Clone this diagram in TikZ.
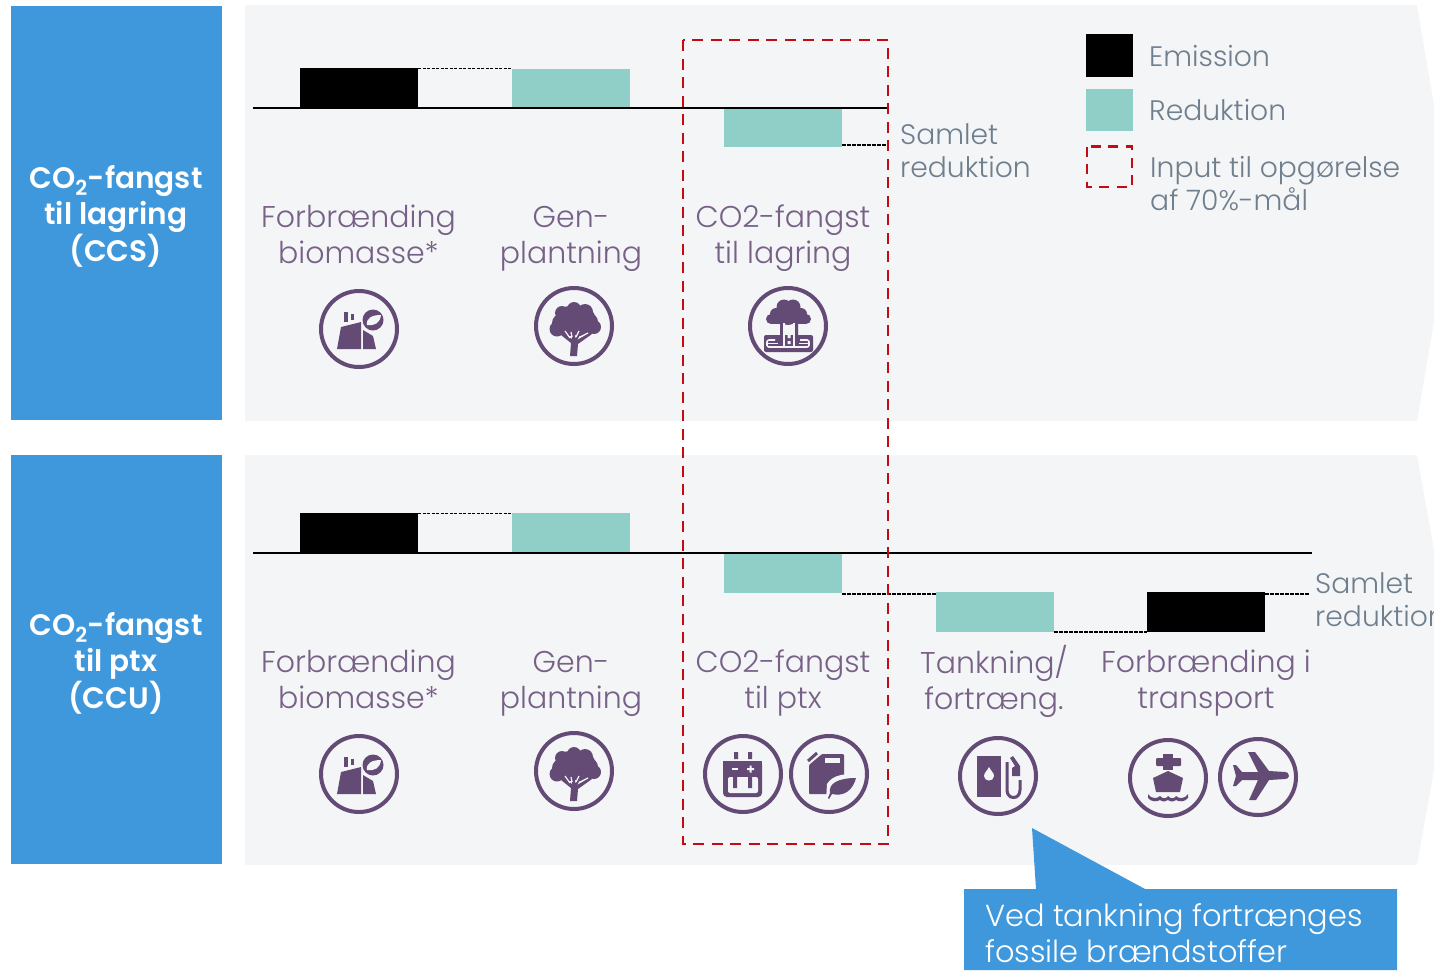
\documentclass[tikz,border=0pt]{standalone}
\usepackage{fontspec}
\setmainfont{Poppins}[UprightFont=* Light,BoldFont=* SemiBold]
\definecolor{blueC}{HTML}{4098DC}
\definecolor{tealC}{HTML}{90CFC7}
\definecolor{purpC}{HTML}{644B75}
\definecolor{panelC}{HTML}{F4F5F7}
\definecolor{greyC}{HTML}{6F7F8E}
\definecolor{redC}{HTML}{C40A12}
\tikzset{
  x=1pt,y=-1pt,
  bar/.style={inner sep=0pt,outer sep=0pt,minimum width=118pt,minimum height=39pt,anchor=north west},
  blackbar/.style={bar,fill=black},
  tealbar/.style={bar,fill=tealC},
  base/.style={black,line width=2pt},
  dash1/.style={black,line width=.9pt,dash pattern=on 3pt off 1.5pt},
  dash2/.style={black,line width=1.3pt,dash pattern=on 3.5pt off 1.5pt},
  redbox/.style={redC,line width=2.8pt,dash pattern=on 11pt off 7.5pt},
  sidelabel/.style={text=white,font=\fontsize{29.6}{36.5}\selectfont\bfseries,align=center,inner sep=0pt},
  steplabel/.style={text=purpC!88!white,font=\fontsize{30}{36}\selectfont,align=center,inner sep=0pt},
  greylabel/.style={text=greyC,font=\fontsize{28.2}{33}\selectfont,align=left,inner sep=0pt,anchor=west},
  ring/.style={draw=purpC,line width=4pt,fill=none},
  pf/.style={fill=purpC,draw=none},
  pw/.style={fill=panelC,draw=none},
  icofactory/.pic={
    \draw[ring] (0,0) circle (38);
    \fill[pf] (-22,20) -- (-18,-2) -- (2,-7) -- (2,20) -- cycle;
    \fill[pf] (-15,-17) rectangle (-11,-7);
    \fill[pf] (-8,-15) rectangle (-5,-9);
    \fill[pf] (4,1) -- (14,7) -- (17,20) -- (4,20) -- cycle;
    \fill[pf] (14,-9) circle (10.5);
    \fill[pw] (8,-4) .. controls (7,-11) and (13,-14) .. (22,-14) .. controls (21,-6) and (16,-3) .. (8,-4) -- cycle;
  },
  icotree/.pic={
    \draw[ring] (0,0) circle (38);
    \fill[pf] (-12,-13) circle (7) (0,-17) circle (7) (11,-14) circle (8)
      (-17,3) circle (7.5) (20,1) circle (7) (-4,-5) circle (15) (7,-5) circle (15) (15,-4) circle (9) (-13,-3) circle (9);
    \fill[pf] (-4,30) -- (-3,17) -- (-13,9) -- (-10,7) -- (-2,13) -- (-1,5) -- (1,5) -- (1,13) -- (5,5) -- (8,6) -- (3,14) -- (17,6) -- (18,8) -- (4,18) -- (3,30) -- cycle;
    \draw[panelC,line width=1.2pt] (-9,5) -- (-4,12) (-3,6) -- (-2,11) (2,11) -- (5,5) (6,11) -- (14,7);
  },
  icoccs/.pic={
    \draw[ring] (0,0) circle (38);
    \fill[pf] (-4,-19) circle (7.5) (5,-19) circle (7.5) (-12,-12) circle (6) (13,-12) circle (6)
      (-17,-7) circle (5) (18,-7) circle (5) (0,-10) circle (9);
    \fill[pf] (-17,-11) rectangle (18,-2);
    \fill[pf] (-8,-3) rectangle (-5,20) (7,-3) rectangle (10,20);
    \fill[pf,rounded corners=2pt] (-24,9) rectangle (25,26);
    \draw[panelC,line width=1.6pt] (-20,17.5) -- (-10,17.5) (11,17.5) -- (20,17.5);
    \draw[panelC,line width=1.6pt,rounded corners=2pt] (-13,14) -- (-21,14) -- (-21,21) -- (21,21) -- (21,14) -- (12,14);
    \draw[panelC,line width=1.6pt] (-4,-3) -- (-4,20) (6,-3) -- (6,20);
    \fill[panelC] (-0.5,9) rectangle (2.5,12) (-0.5,15) rectangle (2.5,18);
  },
  icobattery/.pic={
    \draw[ring] (0,0) circle (38);
    \fill[pf] (-9,-22) rectangle (-5,-15) (5,-22) rectangle (9,-15);
    \fill[pf,rounded corners=4pt] (-20,-13) rectangle (19,23);
    \fill[pf] (-20,-13) rectangle (19,0);
    \fill[pw,rounded corners=2pt] (-15,3) rectangle (15,19);
    \fill[pf] (-10,0) rectangle (-6,14) (5,0) rectangle (9,14);
    \fill[panelC] (-11,-6) rectangle (-5,-4);
    \fill[panelC] (4,-6) rectangle (11,-4) (6.5,-8.5) rectangle (8.5,-1.5);
  },
  icocan/.pic={
    \draw[ring] (0,0) circle (38);
    \draw[purpC,line width=3pt] (-21,-13) -- (-12,-21);
    \fill[pf,rounded corners=1pt] (-20,-9) -- (-7,-20) -- (15,-20) -- (15,20) -- (-20,20) -- cycle;
    \fill[panelC] (-4,-16) rectangle (11,-11);
    \fill[pw] (-3,27) -- (-2,10) .. controls (4,0) and (18,-1) .. (31,1) .. controls (28,18) and (18,26) .. (4,24) -- cycle;
    \fill[pf] (1,19) .. controls (-1,9) and (10,4) .. (27,4) .. controls (24,16) and (15,23) .. (3,20) -- (0,25) -- (-1,24) -- cycle;
  },
  icopump/.pic={
    \draw[ring] (0,0) circle (38);
    \fill[pf] (-21,-20) rectangle (3,21);
    \fill[pw] (-9,-9) .. controls (-7,-5) and (-4,-3) .. (-4,0) .. controls (-4,6) and (-14,6) .. (-14,0) .. controls (-14,-3) and (-11,-5) .. (-9,-9) -- cycle;
    \draw[purpC,line width=3pt] (9,-14) -- (9,14) .. controls (9,24) and (22,24) .. (22,14) -- (22,4);
    \fill[pf] (15,-20) -- (22,-10) -- (22,0) -- (14,0) -- (14,-8) -- (17,-10) -- (12,-18) -- cycle;
  },
  icoship/.pic={
    \draw[ring] (0,0) circle (38);
    \fill[pf,rounded corners=1pt] (-12,-20) rectangle (13,-12);
    \fill[pf] (-5,-24) rectangle (5,-8);
    \fill[pf] (-15,0) -- (0,-7) -- (15,0) -- (12,14) -- (-12,14) -- cycle;
    \fill[pf] (-20,16) .. controls (-17,21) and (-11,21) .. (-8,18) .. controls (-5,21) and (-2,21) .. (0,18) .. controls (3,21) and (6,21) .. (8,18) .. controls (11,21) and (17,21) .. (20,16) -- (20,20) .. controls (17,24) and (11,24) .. (8,22) .. controls (5,24) and (3,24) .. (0,22) .. controls (-2,24) and (-5,24) .. (-8,22) .. controls (-11,24) and (-17,24) .. (-20,20) -- cycle;
  },
  icoplane/.pic={
    \draw[ring] (0,0) circle (38);
    \fill[pf] (31,-1) .. controls (31,-4) and (29,-5) .. (27,-5) -- (11,-6) -- (-3,-25) -- (-10,-25) -- (0,-5) -- (-16,-5) -- (-22,-12) -- (-25,-12) -- (-22,-1) -- (-25,9) -- (-22,9) -- (-16,3) -- (0,3) -- (-9,23) -- (-2,23) -- (11,3) -- (27,2) .. controls (29,2) and (31,1) .. (31,-1) -- cycle;
  },
}
\begin{document}
\begin{tikzpicture}
\useasboundingbox (0,0) rectangle (1434,970);
% panels
\fill[panelC] (245,5) -- (1417,5) -- (1434,105) -- (1434,322) -- (1417,421) -- (245,421) -- cycle;
\fill[panelC] (245,455) -- (1417,455) -- (1434,550) -- (1434,770) -- (1417,865) -- (245,865) -- cycle;
% side blocks
\fill[blueC] (11,6) rectangle (222,420);
\fill[blueC] (11,455) rectangle (222,864);
\node[sidelabel] (s1) at (116,216) {CO\textsubscript{2}-fangst\\til lagring\\(CCS)};
\node[sidelabel] (s2) at (116,663) {CO\textsubscript{2}-fangst\\til ptx\\(CCU)};
% upper bars
\node[blackbar] (a1) at (300,68) {};
\node[tealbar] (a2) at (512,69) {};
\node[tealbar] (a3) at (724,108) {};
\coordinate (a0l) at (253,107.5);
\coordinate (a0r) at (888,107.5);
\coordinate (a3e) at (888,145);
\draw[base] (a0l) -- (a0r);
\draw[dash1] (a1.north east) -- (a2.north west |- a1.north east);
\draw[dash2] (a3.south east |- a3e) -- (a3e);
% lower bars
\node[blackbar] (b1) at (300,513) {};
\node[tealbar] (b2) at (512,513) {};
\node[tealbar,minimum height=40pt] (b3) at (724,553) {};
\node[tealbar,minimum height=40pt] (b4) at (936,592) {};
\node[blackbar,minimum height=40pt] (b5) at (1147,592) {};
\coordinate (b0l) at (253,552.5);
\coordinate (b0r) at (1312,552.5);
\coordinate (b5e) at (1310,594);
\draw[base] (b0l) -- (b0r);
\draw[dash1] (b1.north east) -- (b2.north west);
\draw[dash2] (b3.south east |- b5e) -- (b4.north west |- b5e);
\draw[dash2] (b4.south east) -- (b5.south west);
\draw[dash2] (b5.east |- b5e) -- (b5e);
% labels
\node[steplabel] (l1) at (358.5,234) {Forbrænding\\biomasse*};
\node[steplabel] (l2) at (571,238.5) {Gen-\\plantning};
\node[steplabel] (l3) at (783,238) {CO2-fangst\\til lagring};
\node[steplabel] (l4) at (358.5,679) {Forbrænding\\biomasse*};
\node[steplabel] (l5) at (571,683.5) {Gen-\\plantning};
\node[steplabel] (l6) at (783,683) {CO2-fangst\\til ptx};
\node[steplabel] (l7) at (994,681) {Tankning/\\fortræng.};
\node[steplabel] (l8) at (1206,683) {Forbrænding i\\transport};
\node[greylabel] (r1) at (900,150.5) {Samlet\\reduktion};
\node[greylabel] (r2) at (1315,599.5) {Samlet\\reduktion};
% icons
\pic at (359,329) {icofactory};
\pic at (574,326) {icotree};
\pic at (788,326) {icoccs};
\pic at (359,774) {icofactory};
\pic at (574,771) {icotree};
\pic at (743,774) {icobattery};
\pic at (829,774) {icocan};
\pic at (998,776) {icopump};
\pic at (1168,778) {icoship};
\pic at (1258,777) {icoplane};
% legend
\node[blackbar,minimum width=47pt,minimum height=43pt] (k1) at (1086,34) {};
\node[tealbar,minimum width=47pt,minimum height=42pt] (k2) at (1086,89) {};
\node[greylabel] (t1) at (1149,56) {Emission};
\node[greylabel] (t2) at (1149,110) {Reduktion};
\node[greylabel] (t3) at (1150,183.5) {Input til opgørelse\\af 70\%-mål};
\draw[redC,line width=2.6pt,dash pattern=on 10pt off 7.5pt] (1087,146.5) rectangle (1132,187);
% red box
\draw[redbox] (683,40) rectangle (888,844);
% callout
\fill[blueC] (964,889) -- (1036,889) -- (1032,828) -- (1145,889) -- (1397,889) -- (1397,970) -- (964,970) -- cycle;
\node[text=white,font=\fontsize{30.4}{36}\selectfont,align=left,inner sep=0pt,anchor=west] (c1) at (985,933) {Ved tankning fortrænges\\fossile brændstoffer};
\end{tikzpicture}
\end{document}
